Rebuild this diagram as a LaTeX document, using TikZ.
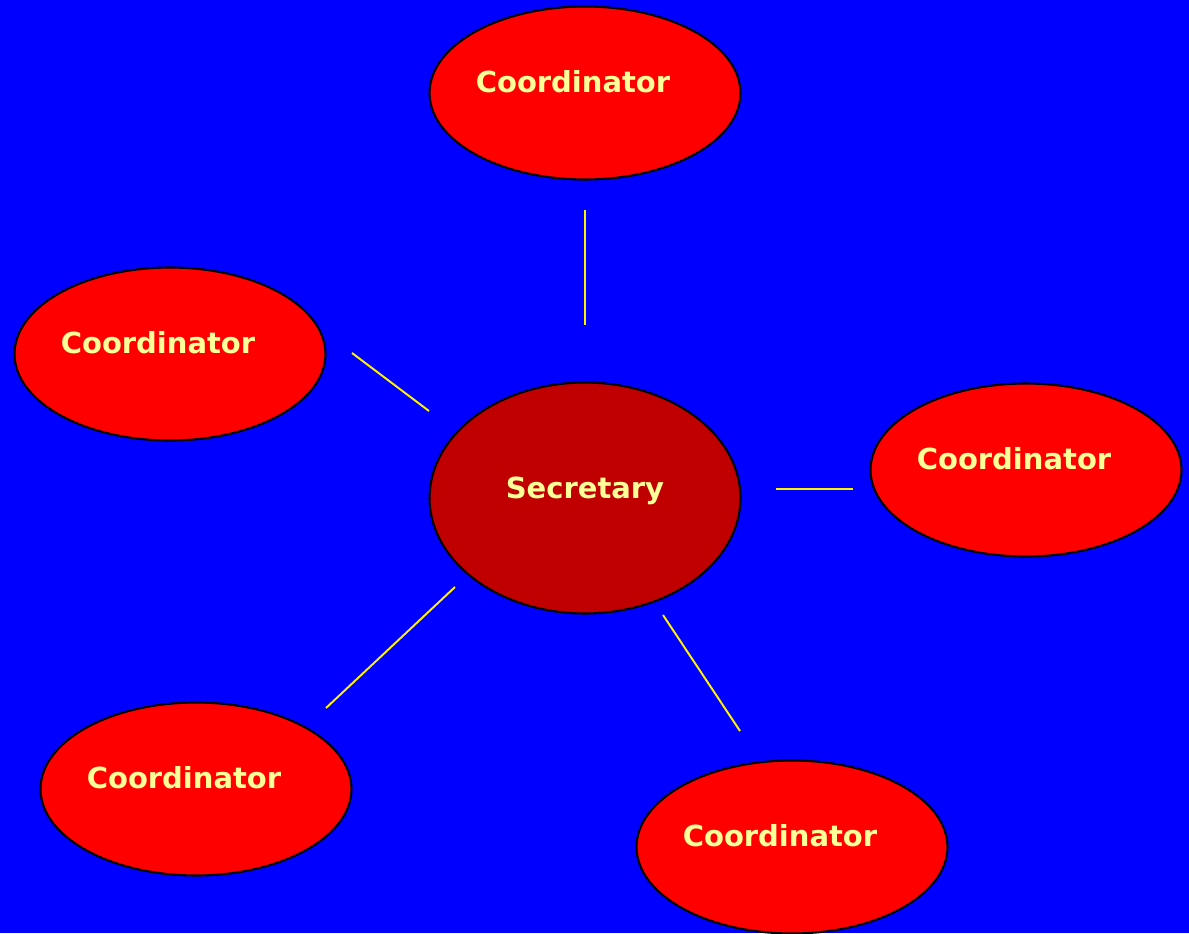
\documentclass[tikz,border=0pt]{standalone}
\usepackage{fontspec}
\setmainfont{DejaVu Sans}
\usetikzlibrary{calc,shapes}

\definecolor{paleyellow}{HTML}{FFFF99}
\definecolor{darkred}{HTML}{C00000}
\definecolor{slideblue}{HTML}{0000FF}

\tikzset{
  bubble/.style={ellipse, draw=black, line width=1.2pt, fill=red,
    minimum width=6.22cm, minimum height=3.46cm, inner sep=0pt},
  bubbletext/.style={anchor=base, text=paleyellow,
    font=\fontsize{16.5}{18}\selectfont\bfseries},
  link/.style={draw=yellow, line width=1.1pt}
}

\begin{document}
\begin{tikzpicture}[x=0.02cm,y=-0.02cm]
        \fill[slideblue] (0,0) rectangle (1189,933);
        \useasboundingbox (0,0) rectangle (1189,933);
        % the five coordinators and the secretary
        \node[bubble] (north) at (585,93) {};
        \node[bubble] (west) at (170,354) {};
        \node[bubble] (east) at (1026,470) {};
        \node[bubble] (southwest) at (196,789) {};
        \node[bubble] (southeast) at (792,847) {};
        \node[bubble, fill=darkred, minimum height=4.62cm] (sec) at (585,498) {};
        \foreach \n in {north,west,east,southwest,southeast}
        \node[bubbletext] (\n-text) at ($(\n)+(-12,-1)$) {Coordinator};
        \node[bubbletext] (sec-text) at (sec) {Secretary};
        % links
        \coordinate (n1) at (585,210);  \coordinate (n2) at (585,325);
        \coordinate (w1) at (352,353);  \coordinate (w2) at (429,411);
        \coordinate (e1) at (776,489);  \coordinate (e2) at (853,489);
        \coordinate (sw1) at (455,587); \coordinate (sw2) at (326,708);
        \coordinate (se1) at (663,615); \coordinate (se2) at (740,731);
        \foreach \a/\b in {n1/n2,w1/w2,e1/e2,sw1/sw2,se1/se2}
        \draw[link] (\a) -- (\b);
    \end{tikzpicture}
\end{document}
